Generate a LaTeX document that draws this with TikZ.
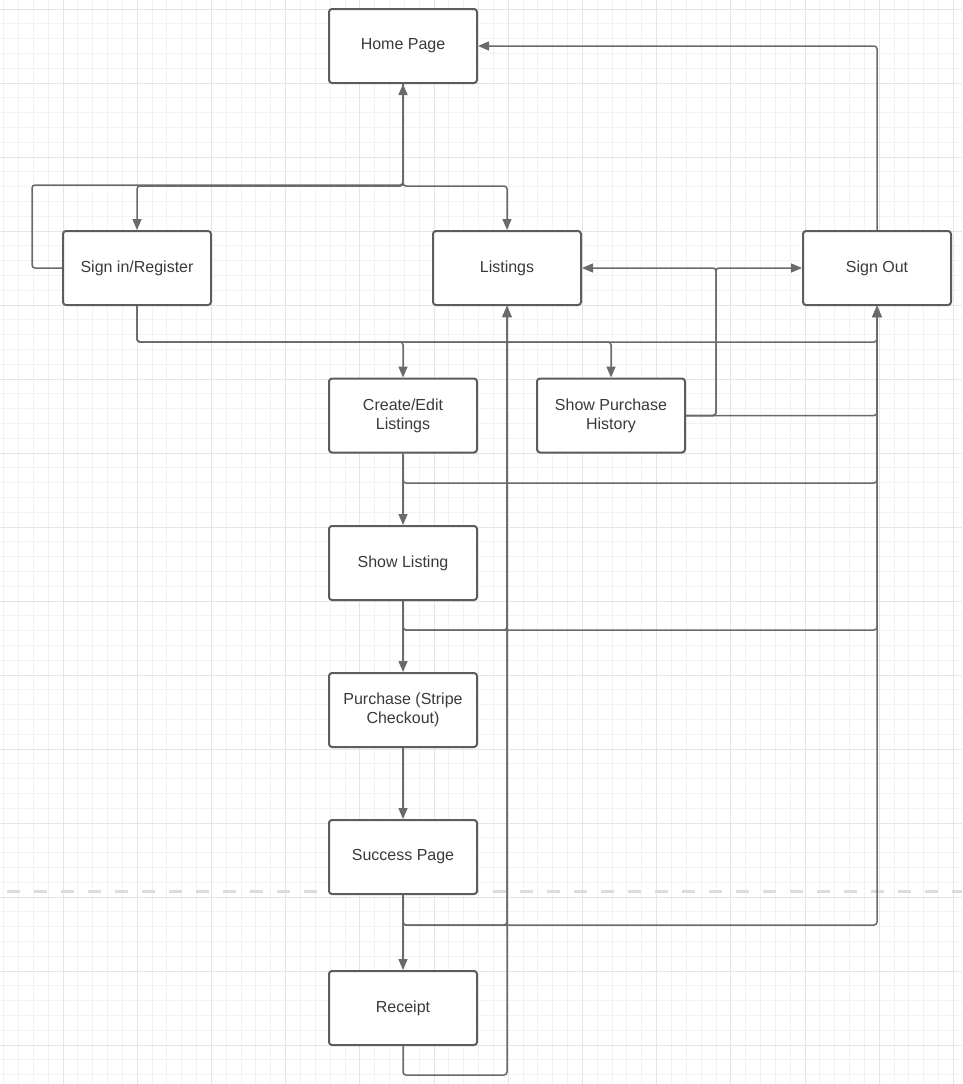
\documentclass[tikz,border=0pt]{standalone}
\usepackage{fontspec}
\setmainfont{Liberation Sans}
\usetikzlibrary{arrows.meta,calc}
\definecolor{boxline}{HTML}{5C5C5C}
\definecolor{connline}{HTML}{6A6A6A}
\definecolor{txt}{HTML}{3A3A3A}
\definecolor{gridminor}{HTML}{F2F2F2}
\definecolor{gridmajor}{HTML}{E5E5E5}
\definecolor{pagebreak}{HTML}{DCDCDC}
\tikzset{
  pagebox/.style={draw=boxline, line width=2pt, rounded corners=3pt, fill=white,
    minimum width=148pt, minimum height=74pt, inner sep=2pt, text=txt,
    align=center, font=\fontsize{16}{19}\selectfont},
  conn/.style={draw=connline, line width=1.5pt, rounded corners=3pt},
  tip/.style={-{Triangle[length=11pt,width=9pt]}},
  gminor/.style={draw=gridminor, line width=0.9pt},
  gmajor/.style={draw=gridmajor, line width=1pt},
}
\begin{document}
\begin{tikzpicture}[x=1pt,y=-1pt]
\useasboundingbox (0,0) rectangle (962,1084);
\fill[white] (0,0) rectangle (962,1084);
% grid
\foreach \i in {-5,...,61} { \draw[gminor] ({63+14.84*\i},0) -- ({63+14.84*\i},1084); }
\foreach \j in {-1,...,73} { \draw[gminor] (0,{9+14.8*\j}) -- (962,{9+14.8*\j}); }
\foreach \i in {-1,...,12} { \draw[gmajor] ({63+74.2*\i},0) -- ({63+74.2*\i},1084); }
\foreach \j in {0,...,14} { \draw[gmajor] (0,{9+74*\j}) -- (962,{9+74*\j}); }
% page break line
\draw[pagebreak, line width=3pt, dash pattern=on 13pt off 14pt] (7,891) -- (962,891);

% nodes
\node[pagebox] (home)   at (403,46)   {Home Page};
\node[pagebox] (sign)   at (137,268)  {Sign in/Register};
\node[pagebox] (list)   at (507,268)  {Listings};
\node[pagebox] (out)    at (877,268)  {Sign Out};
\node[pagebox] (create) at (403,415.5) {Create/Edit\\Listings};
\node[pagebox] (hist)   at (611,415.5) {Show Purchase\\History};
\node[pagebox] (show)   at (403,563)  {Show Listing};
\node[pagebox] (purch)  at (403,710)  {Purchase (Stripe\\Checkout)};
\node[pagebox] (succ)   at (403,857)  {Success Page};
\node[pagebox] (rcpt)   at (403,1008) {Receipt};

% routing coordinates
\coordinate (hb) at (403,186);
\coordinate (r1) at (0,342);
\coordinate (r2) at (0,483);
\coordinate (r3) at (0,630);
\coordinate (r4) at (0,925);
\coordinate (r5) at (0,1075);
\coordinate (hx) at (716,0);

% connectors
\draw[conn,tip] (out.north) |- (home.east);
\draw[conn,tip] (sign.west) -- ++(-30,0) |- ([yshift=1pt]hb) -- (home.south);
\draw[conn,tip] (home.south) -- (hb) -| (sign.north);
\draw[conn,tip] (home.south) -- (hb) -| (list.north);

\draw[conn,tip] (sign.south) |- (create.north |- r1) -- (create.north);
\draw[conn,tip] (sign.south) |- (hist.north |- r1) -- (hist.north);
\draw[conn,tip] (sign.south) |- (out.south |- r1) -- (out.south);

\draw[conn,tip] (hist.east) -| (hx |- list.east) -- (list.east);
\draw[conn,tip] (hist.east) -| (hx |- out.west) -- (out.west);
\draw[conn,tip] (hist.east) -| (out.south);

\draw[conn,tip] (create.south) -- (show.north);
\draw[conn,tip] (create.south) |- (out.south |- r2) -- (out.south);

\draw[conn,tip] (show.south) -- (purch.north);
\draw[conn,tip] (show.south) |- (list.south |- r3) -- (list.south);
\draw[conn,tip] (show.south) |- (out.south |- r3) -- (out.south);

\draw[conn,tip] (purch.south) -- (succ.north);

\draw[conn,tip] (succ.south) -- (rcpt.north);
\draw[conn,tip] (succ.south) |- (list.south |- r4) -- (list.south);
\draw[conn,tip] (succ.south) |- (out.south |- r4) -- (out.south);

\draw[conn,tip] (rcpt.south) |- (list.south |- r5) -- (list.south);
\end{tikzpicture}
\end{document}
